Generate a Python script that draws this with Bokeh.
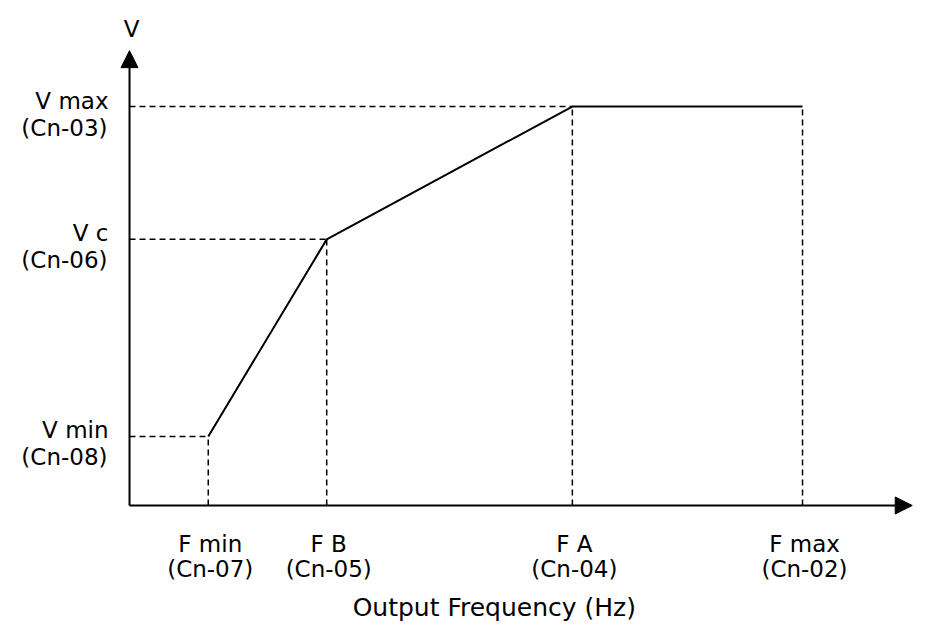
from bokeh.plotting import figure
from bokeh.models import Range1d, Arrow, NormalHead, Label
from bokeh.embed import file_html
from bokeh.resources import INLINE

# Normalised data (Fmax = 100, Vmax = 100)
FREQ = [11.7, 29.3, 65.8, 100.0]          # Fmin, FB, FA, Fmax
VOLT = [17.3, 66.7, 100.0, 100.0]         # Vmin, Vc, Vmax, Vmax
FREQ_NAMES = ["F min", "F B", "F A", "F max"]
FREQ_CODES = ["(Cn-07)", "(Cn-05)", "(Cn-04)", "(Cn-02)"]
VOLT_NAMES = ["V min", "V c", "V max"]
VOLT_CODES = ["(Cn-08)", "(Cn-06)", "(Cn-03)"]
Y_TITLE = "V"
X_TITLE = "Output Frequency (Hz)"

FONT = "DejaVu Sans"
FS = "23px"
FS_TITLE = "25px"

W, H = 913, 628
p = figure(width=W, height=H, output_backend="svg", toolbar_location=None,
           x_range=Range1d(-19.17, 116.49), y_range=Range1d(-30.83, 126.57),
           min_border=0, min_border_left=0, min_border_right=0,
           min_border_top=0, min_border_bottom=0)
p.axis.visible = False
p.grid.visible = False
p.outline_line_color = None
p.background_fill_color = "white"
p.border_fill_color = "white"

DASH = "6 4"
# horizontal dashed guides
p.segment(x0=[0, 0, 0], y0=VOLT[:3], x1=FREQ[:3], y1=VOLT[:3],
          line_color="black", line_width=1.5, line_dash=DASH)
# vertical dashed guides
p.segment(x0=FREQ, y0=[0] * 4, x1=FREQ, y1=VOLT,
          line_color="black", line_width=1.5, line_dash=DASH)
# V/f curve
p.line(FREQ, VOLT, line_color="black", line_width=2)

# axes with arrows
y_top = VOLT[2] * 1.14
x_right = FREQ[3] * 1.163
p.add_layout(Arrow(x_start=0, y_start=0, x_end=0, y_end=y_top, line_width=2,
                   line_color="black",
                   end=NormalHead(size=17, fill_color="black", line_color="black")))
p.add_layout(Arrow(x_start=0, y_start=0, x_end=x_right, y_end=0, line_width=2,
                   line_color="black",
                   end=NormalHead(size=17, fill_color="black", line_color="black")))

def lab(x, y, t, xo=0, yo=0, align="center", fs=FS):
    p.add_layout(Label(x=x, y=y, text=t, x_offset=xo, y_offset=yo,
                       text_font=FONT, text_font_size=fs, text_color="black",
                       text_align=align, text_baseline="alphabetic"))

# y labels
for v, n, c in zip(VOLT[:3], VOLT_NAMES, VOLT_CODES):
    lab(0, v, n, xo=-21, yo=6, align="right")
    lab(0, v, c, xo=-22, yo=-21, align="right")

# x labels
for f, n, c in zip(FREQ, FREQ_NAMES, FREQ_CODES):
    lab(f, 0, n, xo=2, yo=-39)
    lab(f, 0, c, xo=2, yo=-64)

lab(0, y_top, Y_TITLE, xo=2, yo=22)
lab(FREQ[3] * 0.542, 0, X_TITLE, yo=-102, fs=FS_TITLE)

open("out.html", "w").write(file_html(p, INLINE))
